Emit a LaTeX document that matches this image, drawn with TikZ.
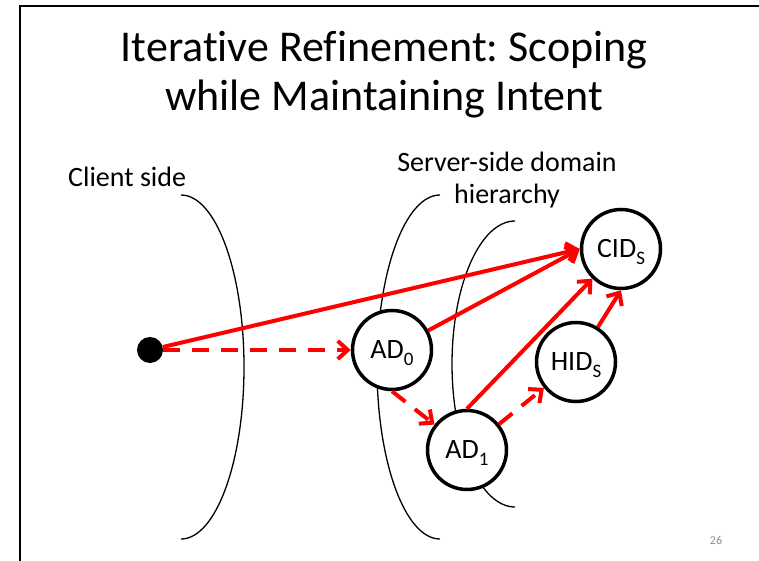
\documentclass[tikz,border=0pt]{standalone}
\usepackage{fontspec}
\setmainfont[Ligatures=NoCommon]{Carlito}
\frenchspacing
\usetikzlibrary{arrows.meta}

\definecolor{pagenum}{HTML}{8C8C8C}
\newcommand{\idx}[1]{\smash{\raisebox{-7pt}{\fontsize{19}{19}\selectfont #1}}}

\tikzset{
	idnode/.style={draw, circle, line width=3.5pt, fill=white, minimum size=79pt, inner sep=0pt, font=\fontsize{28}{30}\selectfont},
	hop/.style={red, line width=4pt, -{Straight Barb[length=10pt,width=18pt]}},
	probe/.style={hop, dash pattern=on 17pt off 12pt},
	shell/.style={line width=1.3pt},
}

\begin{document}
\begin{tikzpicture}[x=1pt, y=-1pt]
			\useasboundingbox (0,0) rectangle (759,561);
			\draw [line width=2pt] (20,561) -- (20,6) -- (759,6);
			\node (title) [anchor=base, align=center, font=\fontsize{44}{49}\selectfont] at (384,111) {Iterative Refinement: Scoping\\while Maintaining Intent};
			\node (clientlbl) [anchor=base west, inner sep=0pt, font=\fontsize{28}{32}\selectfont] at (68,187) {Client side};
			\node (serverlbl) [anchor=base, align=center, inner sep=0pt, font=\fontsize{28}{32}\selectfont] at (507,204) {Server-side domain\\hierarchy};
			\draw [shell] (181,195) arc[start angle=90, end angle=-90, x radius=63pt, y radius=172pt];
			\draw [shell] (440,195) arc[start angle=90, end angle=270, x radius=63pt, y radius=172pt];
			\draw [shell] (515,221) arc[start angle=90, end angle=270, x radius=63pt, y radius=143pt];
			\node (client) [circle, fill=black, minimum size=26pt, inner sep=0pt] at (150,350) {};
			\node (ad0) [idnode] at (392,350) {AD\idx{0}};
			\node (ad1) [idnode] at (467,450) {AD\idx{1}};
			\node (hid) [idnode] at (576,362) {HID\idx{S}};
			\node (cid) [idnode] at (621,249) {CID\idx{S}};
			\draw [hop] (client) -- (cid.west);
			\draw [probe] (client) -- (ad0);
			\draw [hop] (ad0) -- (cid.west);
			\draw [probe] (ad0.south) -- (ad1);
			\draw [hop] (ad1.north) -- (cid);
			\draw [probe] (ad1) -- (hid);
			\draw [hop] (hid) -- (cid.south);
			\node (pageno) [anchor=base, text=pagenum, font=\fontsize{12}{14}\selectfont] at (716,544) {26};
		\end{tikzpicture}
\end{document}
